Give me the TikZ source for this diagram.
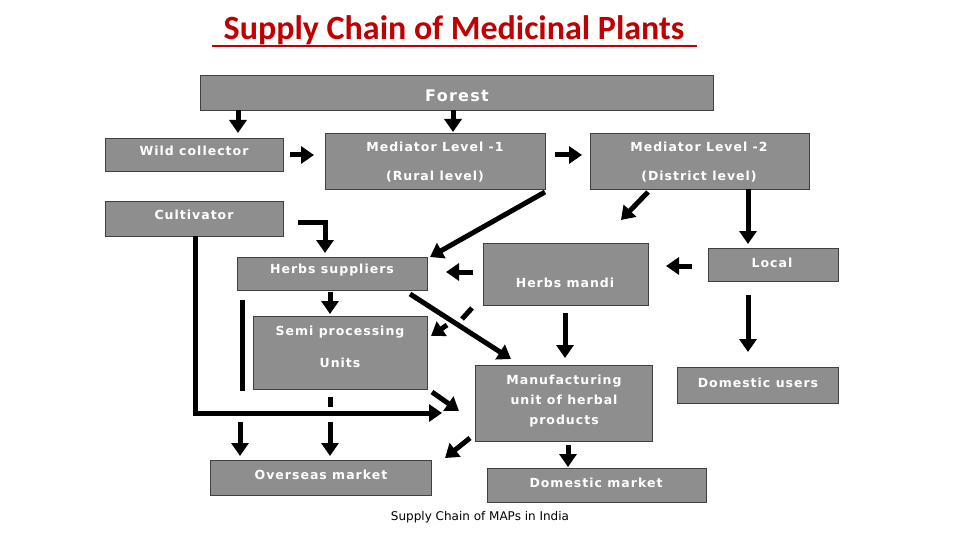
\documentclass[tikz,border=0pt]{standalone}
\usepackage{fontspec}
\setmainfont{DejaVu Sans}
\newfontfamily\titlefont{Carlito}
\newfontfamily\boxfont{DejaVu Sans}[LetterSpace=8]
\usetikzlibrary{arrows.meta}
\definecolor{boxgray}{HTML}{8E8E8E}
\definecolor{titlered}{HTML}{C00000}
\begin{document}
\begin{tikzpicture}[x=1pt,y=-1pt,
  bx/.style={draw=black!75,line width=0.8pt,fill=boxgray},
  lbl/.style={text=white,font=\boxfont\bfseries\fontsize{12.5}{15}\selectfont},
  arr/.style={line width=5pt,-{Triangle[length=13pt,width=17pt]}},
  bar/.style={line width=5pt}]
\useasboundingbox (0,0) rectangle (960,540);
\node[text=titlered,font=\titlefont\bfseries\fontsize{34}{40}\selectfont] (title) at (454,30) {Supply Chain of Medicinal Plants};
\draw[titlered,line width=1.5pt] (212,46) -- (697,46);
% boxes
\draw[bx] (200,75) rectangle (713,110); \node[lbl,font=\boxfont\bfseries\fontsize{16}{18}\selectfont] (forest) at (457,96) {Forest};
\draw[bx] (105,138) rectangle (283,171); \node[lbl] (wild) at (194,151) {Wild collector};
\draw[bx] (325,133) rectangle (545,189); \node[lbl] (m1a) at (435,147) {Mediator Level -1}; \node[lbl] (m1b) at (435,177) {(Rural level)};
\draw[bx] (590,133) rectangle (809,189); \node[lbl] (m2a) at (699,147) {Mediator Level -2}; \node[lbl] (m2b) at (699,177) {(District level)};
\draw[bx] (105,201) rectangle (283,236); \node[lbl] (cult) at (194,215) {Cultivator};
\draw[bx] (237,257) rectangle (427,290); \node[lbl] (hs) at (332,270) {Herbs suppliers};
\draw[bx] (483,243) rectangle (648,305); \node[lbl] (hm) at (565,283) {Herbs mandi};
\draw[bx] (708,248) rectangle (838,281); \node[lbl] (local) at (772,263) {Local};
\draw[bx] (253,316) rectangle (427,389); \node[lbl] (sp1) at (340,332) {Semi processing}; \node[lbl] (sp2) at (340,363) {Units};
\draw[bx] (475,365) rectangle (652,441); \node[lbl,align=center,font=\boxfont\bfseries\fontsize{12.5}{20}\selectfont] (mf) at (564,401) {Manufacturing\\unit of herbal\\products};
\draw[bx] (677,367) rectangle (838,403); \node[lbl] (du) at (758,383) {Domestic users};
\draw[bx] (210,460) rectangle (431,495); \node[lbl] (om) at (321,475) {Overseas market};
\draw[bx] (487,468) rectangle (706,502); \node[lbl] (dm) at (596,483) {Domestic market};
\node[font=\fontsize{12}{14}\selectfont] (cap) at (480,517) {Supply Chain of MAPs in India};
% arrows
\draw[arr] (238,110) -- (238,133);
\draw[arr] (453,110) -- (453,132);
\draw[arr] (290,155) -- (314,155);
\draw[arr] (555,155) -- (582,155);
\draw[arr] (648,192) -- (621,220);
\draw[arr] (748,189) -- (748,244);
\draw[arr] (545,192) -- (430,257);
\draw[arr] (298,222) -- (325,222) -- (325,253);
\draw[arr] (692,266) -- (666,266);
\draw[arr] (473,272) -- (446,272);
\draw[arr] (748,295) -- (748,352);
\draw[arr] (565,313) -- (565,358);
\draw[arr] (330,292) -- (330,314);
\draw[bar] (242,300) -- (242,391);
\draw[arr] (410,294) -- (511,359);
\draw[bar] (472,308) -- (462,319);
\draw[arr] (447,325) -- (431,336);
\draw[arr] (195,236) -- (195,413) -- (442,413);
\draw[arr] (432,392) -- (459,411);
\draw[bar] (330,397) -- (330,407);
\draw[arr] (240,422) -- (240,456);
\draw[arr] (330,422) -- (330,456);
\draw[arr] (470,438) -- (445,458);
\draw[arr] (568,445) -- (568,467);
\end{tikzpicture}
\end{document}
